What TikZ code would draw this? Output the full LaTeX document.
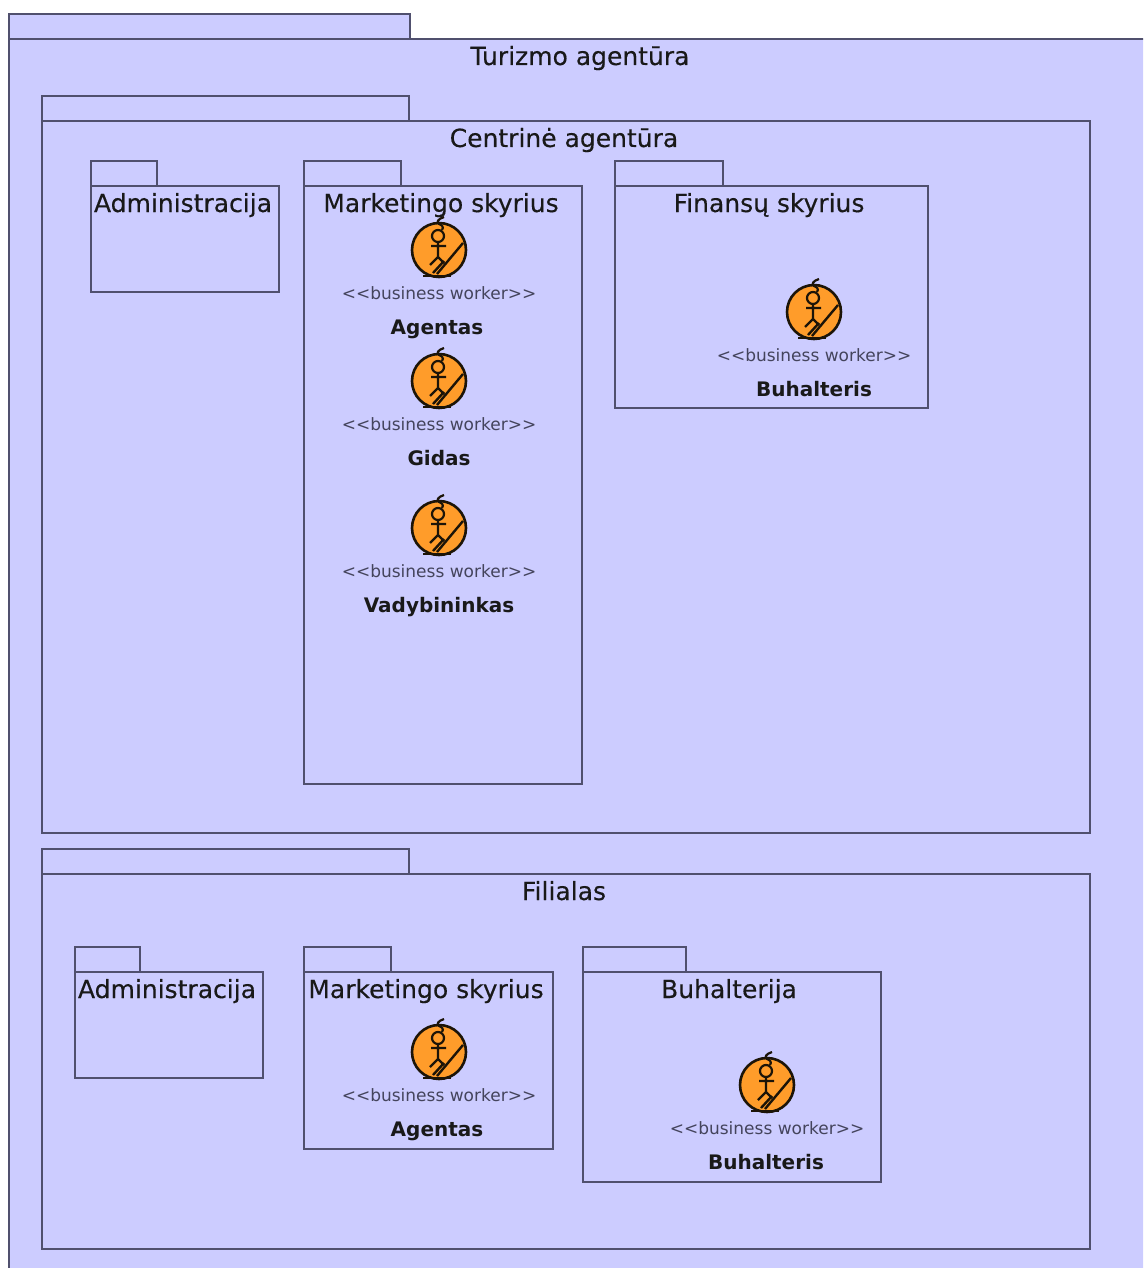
\documentclass[tikz,border=0pt]{standalone}
\usepackage{fontspec}
\setmainfont{DejaVu Sans}
\newfontfamily\titlefont[FakeBold=0.25]{DejaVu Sans}
\newcommand{\pkg}[7]{%
  \path[pkgline] (#2,#3) rectangle (#4,#3+25);
  \path[pkgline] (#2,#3+25) rectangle (#5,#6);
  \node[titletext] (#1) at (#7,#3+51) {\pkgtitle};
}
\tikzset{
  x=1pt,y=-1pt,
  pkgline/.style={draw=linecol,fill=pkgfill,line width=1.2pt},
  titletext/.style={anchor=base,inner sep=0pt,font=\titlefont\fontsize{25}{28}\selectfont,text=black!90},
  stereo/.style={anchor=base,inner sep=0pt,font=\fontsize{17}{20}\selectfont,text=stereocol},
  workername/.style={anchor=base,inner sep=0pt,font=\fontsize{20}{24}\selectfont\bfseries,text=black!90},
  worker/.pic={
    \draw[fill=iconfill,draw=iconline,line width=2.6pt] (0,0) circle[radius=27];
    \draw[iconline,line width=2.6pt] (-16,26) -- (12,26);
    \draw[iconline,line width=2.4pt] (24,-7) -- (-2,24);
    \draw[iconline,line width=2.4pt] (5,11) -- (-6,23);
    \draw[iconline,line width=2.2pt] (-1,-14) circle[radius=6];
    \draw[iconline,line width=2.2pt] (-1,-8) -- (-1,7) (-8,-4) -- (7,-4) (-9,15) -- (-1,7) -- (5,13);
    \draw[iconline,line width=2.2pt] (5,-33) .. controls (-1,-31) and (-3,-28) .. (0,-26) .. controls (3,-25) and (5,-23) .. (3,-20);
  }
}
\definecolor{pkgfill}{HTML}{CCCCFF}
\definecolor{linecol}{HTML}{50506E}
\definecolor{iconfill}{HTML}{FF9C2A}
\definecolor{iconline}{HTML}{1C1408}
\definecolor{stereocol}{HTML}{44445C}
\begin{document}
\begin{tikzpicture}
\useasboundingbox (0,0) rectangle (1143,1268);
\clip (0,0) rectangle (1143,1268);
\def\pkgtitle{Turizmo agentūra}\pkg{turizmo}{9}{14}{410}{1160}{1290}{580}
\def\pkgtitle{Centrinė agentūra}\pkg{centrine}{42}{96}{409}{1090}{833}{564}
\def\pkgtitle{Administracija}\pkg{admA}{91}{161}{157}{279}{292}{183}
\def\pkgtitle{Marketingo skyrius}\pkg{markA}{304}{161}{401}{582}{784}{441}
\def\pkgtitle{Finansų skyrius}\pkg{finA}{615}{161}{723}{928}{408}{769}
\def\pkgtitle{Filialas}\pkg{filialas}{42}{849}{409}{1090}{1249}{564}
\def\pkgtitle{Administracija}\pkg{admB}{75}{947}{140}{263}{1078}{167}
\def\pkgtitle{Marketingo skyrius}\pkg{markB}{304}{947}{391}{553}{1149}{426}
\def\pkgtitle{Buhalterija}\pkg{buh}{583}{947}{686}{881}{1182}{729}

\pic at (439,250) {worker};
\node[stereo] (s1) at (439,299) {<{}<business worker>{}>};
\node[workername] (n1) at (437,334) {Agentas};
\pic at (439,381) {worker};
\node[stereo] (s2) at (439,430) {<{}<business worker>{}>};
\node[workername] (n2) at (439,465) {Gidas};
\pic at (439,528) {worker};
\node[stereo] (s3) at (439,577) {<{}<business worker>{}>};
\node[workername] (n3) at (439,612) {Vadybininkas};
\pic at (814,312) {worker};
\node[stereo] (s4) at (814,361) {<{}<business worker>{}>};
\node[workername] (n4) at (814,396) {Buhalteris};
\pic at (439,1052) {worker};
\node[stereo] (s5) at (439,1101) {<{}<business worker>{}>};
\node[workername] (n5) at (437,1136) {Agentas};
\pic at (767,1085) {worker};
\node[stereo] (s6) at (767,1134) {<{}<business worker>{}>};
\node[workername] (n6) at (766,1169) {Buhalteris};
\end{tikzpicture}
\end{document}
